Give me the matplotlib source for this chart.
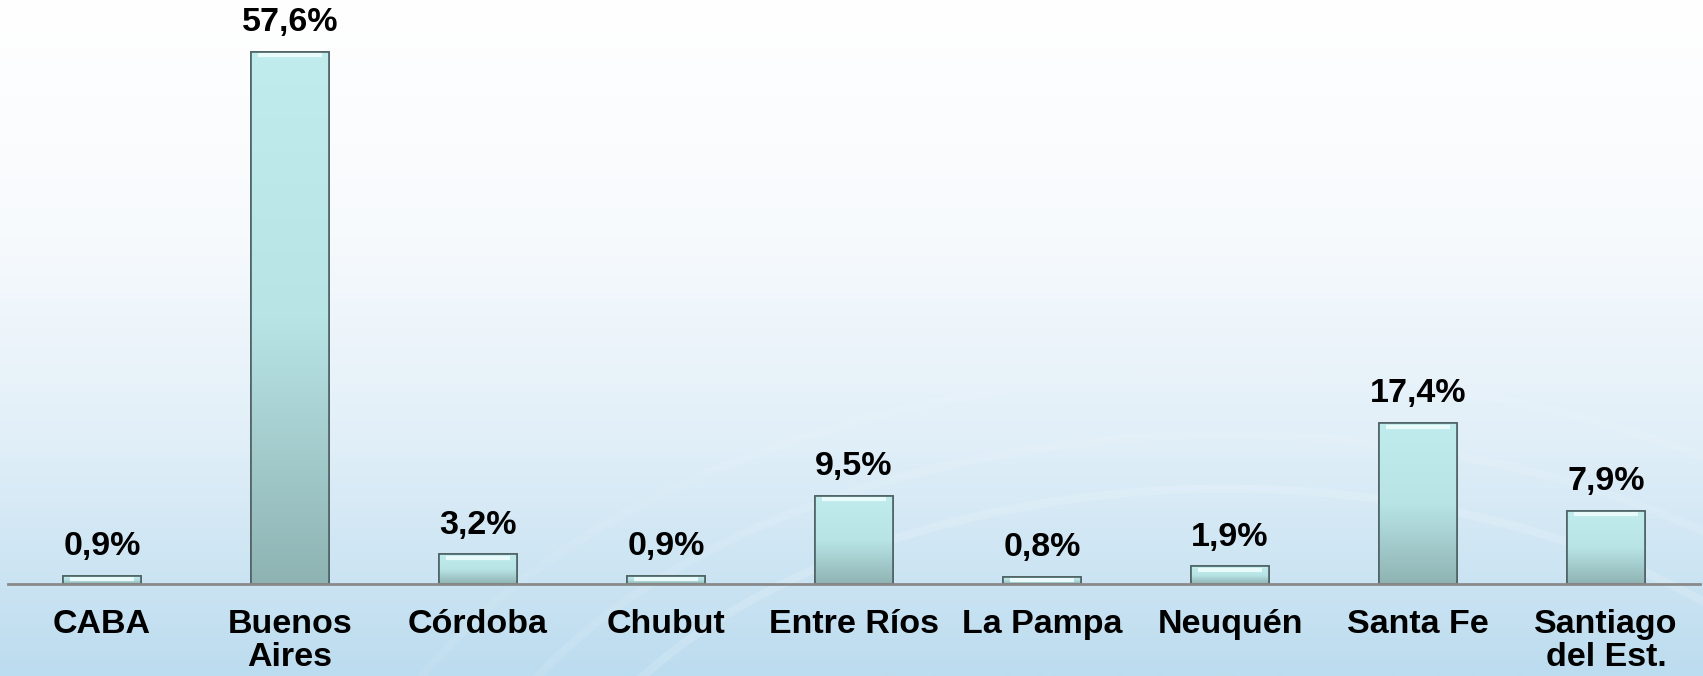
import numpy as np
import matplotlib.pyplot as plt
from matplotlib.colors import LinearSegmentedColormap

provincias = ['CABA', 'Buenos\nAires', 'Córdoba', 'Chubut', 'Entre Ríos',
              'La Pampa', 'Neuquén', 'Santa Fe', 'Santiago\ndel Est.']
porcentajes = [0.9, 57.6, 3.2, 0.9, 9.5, 0.8, 1.9, 17.4, 7.9]
etiquetas = ['0,9%', '57,6%', '3,2%', '0,9%', '9,5%', '0,8%', '1,9%', '17,4%', '7,9%']

plt.rcParams['font.family'] = ['Liberation Sans', 'DejaVu Sans']

fig = plt.figure(figsize=(17.03, 6.76), dpi=100)

# fondo degradado
bg = fig.add_axes([0, 0, 1, 1], zorder=0)
bg_cmap = LinearSegmentedColormap.from_list(
    'bg', [(0, '#bcdcef'), (0.35, '#e1eff8'), (0.65, '#f7fafd'), (1, '#ffffff')])
grad = np.linspace(0, 1, 256).reshape(-1, 1)
bg.imshow(grad, aspect='auto', cmap=bg_cmap, origin='lower', extent=[0, 1, 0, 1])
t = np.linspace(0, np.pi, 200)
for r, a in [(0.55, 0.15), (0.62, 0.1), (0.7, 0.07)]:
    bg.plot(0.72 + r * 0.75 * np.cos(t), -0.35 + r * 1.9 * np.sin(t) * 0.6,
            color='white', lw=6, alpha=a)
bg.set_xlim(0, 1)
bg.set_ylim(0, 1)
bg.axis('off')

ax = fig.add_axes([8 / 1703, 92 / 676, 1692 / 1703, 584 / 676], zorder=1)
ax.patch.set_alpha(0)

x = np.arange(len(provincias))
bars = ax.bar(x, porcentajes, width=0.41, color='#a8d4d6',
              edgecolor='#4f6264', linewidth=1.2, zorder=3)

bar_cmap = LinearSegmentedColormap.from_list('bar', ['#8fb3b3', '#b8e4e6', '#c0ecee'])
for b in bars:
    x0, y0 = b.get_x(), b.get_y()
    w, h = b.get_width(), b.get_height()
    im = ax.imshow(grad, aspect='auto', cmap=bar_cmap, origin='lower',
                   extent=[x0, x0 + w, y0, y0 + h], zorder=3.5)
    im.set_clip_path(b)
    # borde superior claro
    ax.plot([x0 + w * 0.08, x0 + w * 0.92], [y0 + h - 0.35, y0 + h - 0.35],
            color='#e8fafa', lw=3, zorder=4, solid_capstyle='butt')
    ax.bar(x0 + w / 2, h, width=w, fill=False, edgecolor='#4f6264',
           linewidth=1.2, zorder=5)

for xi, v, lab in zip(x, porcentajes, etiquetas):
    ax.annotate(lab, (xi, v), xytext=(0, 10), textcoords='offset points',
                ha='center', va='bottom', fontsize=24.5, fontweight='bold')

ax.set_xlim(-0.5, len(provincias) - 0.5)
ax.set_ylim(0, 63.23)
ax.set_yticks([])
ax.set_xticks(x)
ax.set_xticklabels(provincias, fontsize=24.5, fontweight='bold', linespacing=1.07)
ax.tick_params(axis='x', length=0, pad=18)
for s in ['top', 'right', 'left']:
    ax.spines[s].set_visible(False)
ax.spines['bottom'].set_color('#8a8a8a')
ax.spines['bottom'].set_linewidth(2)
ax.spines['bottom'].set_zorder(6)

fig.savefig('out.png', dpi=100)
